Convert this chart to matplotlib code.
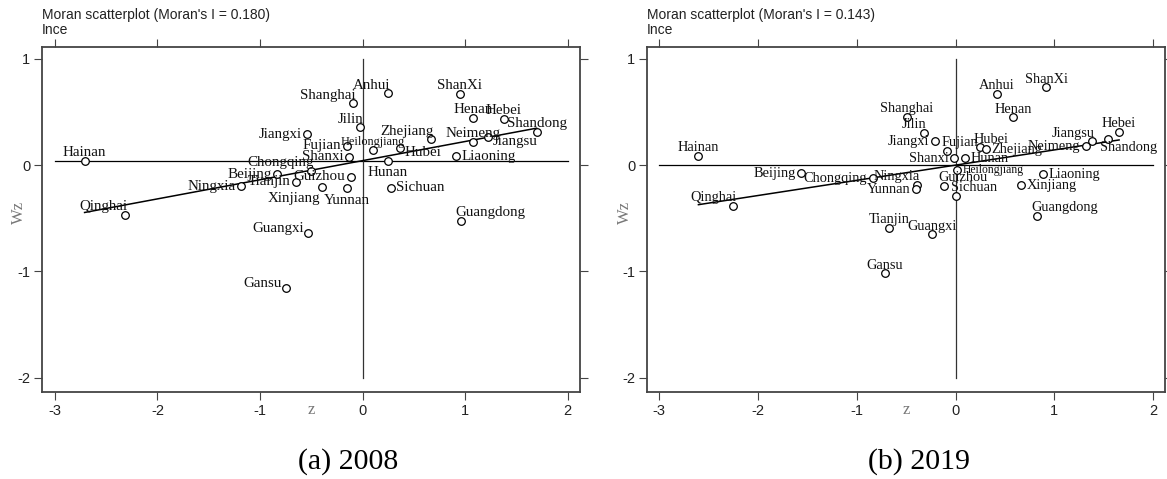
import matplotlib.pyplot as plt

prov08 = ["Anhui", "ShanXi", "Shanghai", "Henan", "Hebei", "Shandong", "Jilin", "Jiangxi",
          "Fujian", "Heilongjiang", "Hubei", "Zhejiang", "Neimeng", "Jiangsu", "Liaoning",
          "Shanxi", "Hunan", "Chongqing", "Beijing", "Ningxia", "Tianjin", "Guizhou",
          "Xinjiang", "Yunnan", "Sichuan", "Guangdong", "Guangxi", "Gansu", "Qinghai", "Hainan"]
z08 = [0.246, 0.95, -0.094, 1.074, 1.379, 1.697, -0.023, -0.54,
       -0.15, 0.10, 0.366, 0.668, 1.074, 1.226, 0.908,
       -0.13, 0.246, -0.50, -0.83, -1.185, -0.65, -0.114,
       -0.40, -0.153, 0.275, 0.96, -0.527, -0.748, -2.32, -2.71]
wz08 = [0.675, 0.668, 0.58, 0.44, 0.436, 0.313, 0.355, 0.29,
        0.18, 0.14, 0.157, 0.241, 0.219, 0.26, 0.085,
        0.078, 0.04, -0.056, -0.088, -0.198, -0.157, -0.11,
        -0.204, -0.22, -0.213, -0.524, -0.637, -1.154, -0.47, 0.038]

prov19 = ["Anhui", "ShanXi", "Shanghai", "Henan", "Jilin", "Jiangxi", "Fujian", "Hubei",
          "Zhejiang", "Shanxi", "Hunan", "Heilongjiang", "Jiangsu", "Neimeng", "Hebei",
          "Shandong", "Liaoning", "Xinjiang", "Guangdong", "Chongqing", "Ningxia", "Yunnan",
          "Guizhou", "Sichuan", "Tianjin", "Guangxi", "Gansu", "Qinghai", "Hainan", "Beijing"]
z19 = [0.419, 0.919, -0.493, 0.58, -0.32, -0.213, -0.088, 0.243,
       0.304, -0.017, 0.091, 0.013, 1.381, 1.32, 1.655,
       1.543, 0.885, 0.659, 0.824, -0.838, -0.388, -0.405,
       -0.122, 0.007, -0.676, -0.236, -0.716, -2.25, -2.604, -1.563]
wz19 = [0.668, 0.731, 0.455, 0.449, 0.304, 0.223, 0.135, 0.166,
        0.148, 0.063, 0.063, -0.047, 0.223, 0.179, 0.313,
        0.247, -0.088, -0.188, -0.48, -0.126, -0.188, -0.227,
        -0.195, -0.29, -0.59, -0.652, -1.019, -0.383, 0.088, -0.078]

moran_i = ["0.180", "0.143"]
slope = [0.180, 0.143]
intercept = [0.042, 0.0]
hline_y = [0.04, 0.0]
captions = ["(a) 2008", "(b) 2019"]
xticks = [-3, -2, -1, 0, 1, 2]
yticks = [1, 0, -1, -2]

# label positions (clock, like Stata mlabvposition)
pos08 = [11, 12, 11, 12, 12, 12, 11, 9, 9, 12, 4, 11, 12, 4, 3,
         9, 6, 11, 9, 9, 9, 9, 7, 6, 3, 1, 10, 10, 11, 12]
pos19 = [12, 12, 12, 12, 11, 9, 1, 1, 3, 9, 3, 3, 11, 9, 12,
         5, 3, 3, 1, 9, 11, 9, 1, 1, 12, 12, 12, 11, 12, 9]

clock = {12: (0, 3.5, "center", "baseline"),
         1: (-4, 3.5, "left", "baseline"),
         3: (4, 0, "left", "center"),
         4: (3.5, -3, "left", "center"),
         5: (-6, -1.5, "left", "top"),
         6: (0, -4, "center", "top"),
         7: (-1, -4, "right", "top"),
         9: (-4, 0, "right", "center"),
         10: (-3, 3, "right", "center"),
         11: (2, 3.5, "right", "baseline")}

serif = "Liberation Serif"
sans = "Liberation Sans"

fig = plt.figure(figsize=(11.67, 4.79), dpi=100)
axes = [fig.add_axes([0.036, 0.1816, 0.461, 0.720]),
        fig.add_axes([0.5544, 0.1816, 0.4439, 0.720])]
panels = [(prov08, z08, wz08, pos08, 10.8), (prov19, z19, wz19, pos19, 10.4)]

for k, ax in enumerate(axes):
    names, z, wz, pos, fs = panels[k]
    ax.set_xlim(-3.125, 2.12)
    ax.set_ylim(-2.135, 1.11)

    ax.plot([-3, 2], [hline_y[k], hline_y[k]], color="black", lw=0.9)
    ax.plot([0, 0], [-2, 1], color="#333333", lw=0.9)
    zmin, zmax = min(z), max(z)
    ax.plot([zmin, zmax], [intercept[k] + slope[k] * zmin, intercept[k] + slope[k] * zmax],
            color="black", lw=1.1)
    ax.scatter(z, wz, s=30, facecolors="white", edgecolors="black", linewidths=0.9, zorder=3)

    for name, x, y, p in zip(names, z, wz, pos):
        dx, dy, ha, va = clock[p]
        size = fs - 2 if name == "Heilongjiang" else fs
        ax.annotate(name, (x, y), xytext=(dx, dy), textcoords="offset points",
                    ha=ha, va=va, fontsize=size, family=serif, color="#111111", zorder=4)

    ax.set_xticks(xticks)
    ax.set_yticks(yticks)
    ax.set_xticklabels([str(t) for t in xticks], family=sans)
    ax.set_yticklabels([str(t) for t in yticks], family=sans)
    ax.tick_params(direction="out", length=5.5, width=0.8, color="#444444",
                   labelsize=10.5, labelcolor="#222222", pad=3,
                   top=True, right=True, labeltop=False, labelright=False)
    for s in ax.spines.values():
        s.set_linewidth(1.3)
        s.set_color("#444444")

    ax.text(0.5, -0.052, "z", transform=ax.transAxes, ha="center", va="center",
            fontsize=12, family=serif, color="#777777")
    ax.text(-0.042, 0.52, "Wz", transform=ax.transAxes, ha="center", va="center",
            rotation=90, fontsize=12, family=serif, color="#777777")
    ax.text(0.0, 1.093, "Moran scatterplot (Moran's I = %s)" % moran_i[k],
            transform=ax.transAxes, ha="left", va="center", fontsize=10, family=sans,
            color="#222222")
    ax.text(0.0, 1.051, "Ince", transform=ax.transAxes, ha="left", va="center",
            fontsize=10, family=sans, color="#222222")

fig.text(0.298, 0.036, captions[0], ha="center", va="center", fontsize=21.5, family=serif)
fig.text(0.7875, 0.036, captions[1], ha="center", va="center", fontsize=21.5, family=serif)

fig.savefig("out.png", dpi=100)
